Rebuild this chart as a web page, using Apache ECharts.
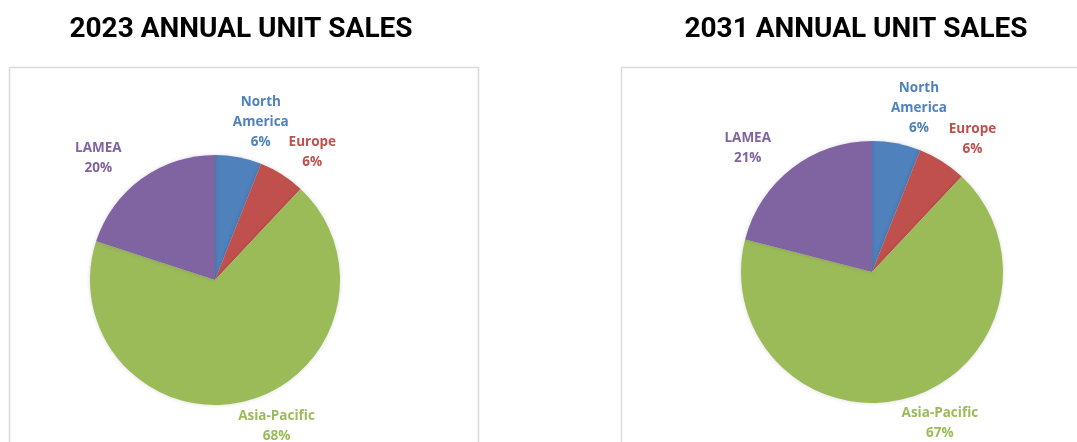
<!DOCTYPE html>
<html>
<head>
<meta charset="utf-8">
<script src="https://cdn.jsdelivr.net/npm/echarts@6/dist/echarts.min.js"></script>
<style>
  html, body { margin: 0; padding: 0; background: #fff; }
  #chart { width: 1077px; height: 442px; }
</style>
</head>
<body>
<div id="chart"></div>
<script>
// regions, clockwise from 12 o'clock
const regions = ['North America', 'Europe', 'Asia-Pacific', 'LAMEA'];
const share2023 = [6, 6, 68, 20];
const share2031 = [6, 6, 67, 21];
const titles = ['2023 ANNUAL UNIT SALES', '2031 ANNUAL UNIT SALES'];

const colors = ['#4F81BD', '#C0504D', '#9BBB59', '#8064A2'];

const pies = [
  { center: [215, 280], radius: 125, values: share2023 },
  { center: [872, 272], radius: 131, values: share2031 }
];

// Excel-like outside label on the slice's mid angle
function placeLabel(p) {
  const pie = pies[p.seriesIndex];
  const vals = pie.values;
  const total = vals.reduce((a, b) => a + b, 0);
  let before = 0;
  for (let i = 0; i < p.dataIndex; i++) before += vals[i];
  const a = (before + vals[p.dataIndex] / 2) / total * Math.PI * 2;
  const sx = Math.sin(a), sy = -Math.cos(a);
  const w = p.labelRect.width, h = p.labelRect.height;
  const k = sx < 0 ? 0.55 : 0.3;
  return {
    x: pie.center[0] + sx * (pie.radius + 30) + Math.sign(sx) * w * k,
    y: pie.center[1] + sy * (pie.radius + 6) + sy * h / 2,
    align: 'center',
    verticalAlign: 'middle'
  };
}

const chart = echarts.init(document.getElementById('chart'));

const option = {
  color: colors,
  animation: false,
  title: titles.map((t, i) => ({
    text: t,
    left: i === 0 ? 236 : 851,
    textAlign: 'center',
    top: 11,
    textStyle: {
      fontFamily: 'Roboto',
      fontWeight: 'bold',
      fontSize: 28,
      color: '#000'
    }
  })),
  graphic: [
    {
      type: 'rect',
      shape: { x: 9.5, y: 67.5, width: 469, height: 420 },
      style: { fill: 'none', stroke: '#d9d9d9', lineWidth: 1.5 },
      z: -1
    },
    {
      type: 'rect',
      shape: { x: 621.5, y: 67.5, width: 470, height: 420 },
      style: { fill: 'none', stroke: '#d9d9d9', lineWidth: 1.5 },
      z: -1
    }
  ],
  series: pies.map((pie) => ({
    type: 'pie',
    center: pie.center,
    radius: pie.radius,
    startAngle: 90,
    clockwise: true,
    avoidLabelOverlap: false,
    silent: true,
    data: regions.map((r, i) => ({ name: r, value: pie.values[i] })),
    itemStyle: {
      borderWidth: 0,
      shadowBlur: 4,
      shadowColor: 'rgba(0,0,0,0.15)'
    },
    label: {
      show: true,
      position: 'outside',
      formatter: (p) => p.name.replace(' ', '\n') + '\n' + p.value + '%',
      fontFamily: 'Open Sans',
      fontWeight: 'bold',
      fontSize: 13.5,
      lineHeight: 20,
      color: 'inherit'
    },
    labelLine: { show: false },
    labelLayout: placeLabel
  }))
};

chart.setOption(option);
</script>
</body>
</html>
